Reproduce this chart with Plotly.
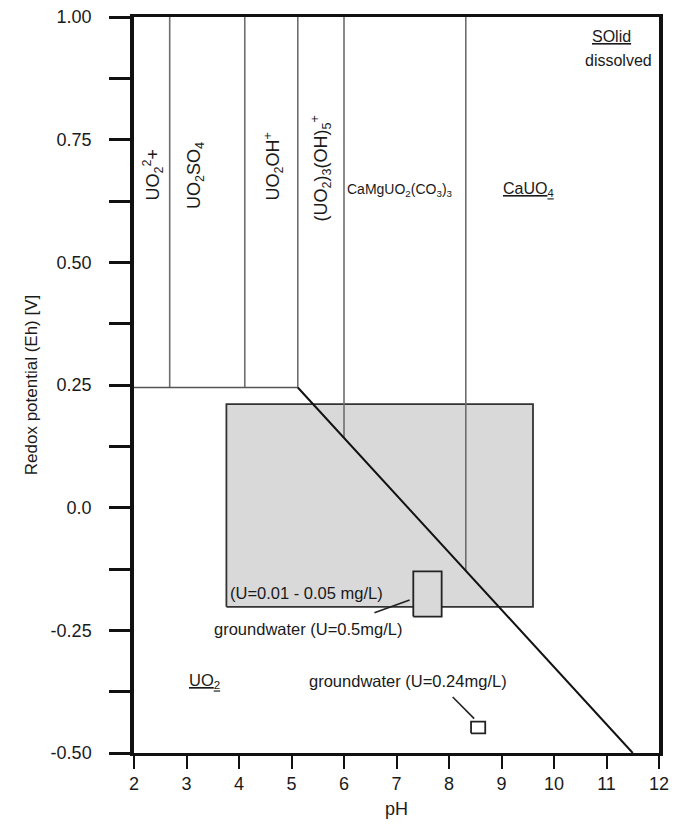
import plotly.graph_objects as go

# ---------------- data (pH, Eh [V]) ----------------
# vertical phase boundaries and their lower ends
vert_ph = [2.68, 4.11, 5.12, 6.00, 8.32]
vert_eh_top = [1.0, 1.0, 1.0, 1.0, 1.0]
vert_eh_bottom = [0.245, 0.245, 0.245, 0.142, -0.129]

# horizontal boundary (UO2 solid upper limit, acid side)
horiz_ph = [2.0, 5.12]
horiz_eh = [0.245, 0.245]

# diagonal boundary of UO2 solid
diag_ph = [5.12, 11.5]
diag_eh = [0.245, -0.5]

# observed conditions (shaded box)
obs_ph = [3.76, 9.60]
obs_eh = [-0.202, 0.211]

# groundwater boxes
gw1_ph = [7.32, 7.86]
gw1_eh = [-0.222, -0.130]
gw2_ph = [8.42, 8.69]
gw2_eh = [-0.460, -0.436]

# leader lines for labels
leader1_ph = [7.25, 6.58]
leader1_eh = [-0.188, -0.214]
leader2_ph = [8.07, 8.48]
leader2_eh = [-0.386, -0.430]

x_ticks = list(range(2, 13))
y_ticks = [-0.5, -0.25, 0.0, 0.25, 0.5, 0.75, 1.0]
y_ticktext = ["-0.50", "-0.25", "0.0", "0.25", "0.50", "0.75", "1.00"]
y_minor_ticks = [-0.375, -0.125, 0.125, 0.375, 0.625, 0.875]

FONT = "Liberation Sans, Arial, sans-serif"
TXT = "#1a1a1a"


def box(xr, yr):
    return ([xr[0], xr[1], xr[1], xr[0], xr[0]],
            [yr[0], yr[0], yr[1], yr[1], yr[0]])


fig = go.Figure()

bx, by = box(obs_ph, obs_eh)
fig.add_trace(go.Scatter(x=bx, y=by, mode="lines", fill="toself",
                         fillcolor="#d9d9d9", line=dict(color="#333333", width=1.8),
                         hoverinfo="skip", showlegend=False))

# vertical boundaries
vx, vy = [], []
for p, t, b in zip(vert_ph, vert_eh_top, vert_eh_bottom):
    vx += [p, p, None]
    vy += [t, b, None]
fig.add_trace(go.Scatter(x=vx, y=vy, mode="lines",
                         line=dict(color="#6e6e6e", width=1.6),
                         hoverinfo="skip", showlegend=False))

fig.add_trace(go.Scatter(x=horiz_ph, y=horiz_eh, mode="lines",
                         line=dict(color="#555555", width=1.6),
                         hoverinfo="skip", showlegend=False))

fig.add_trace(go.Scatter(x=diag_ph, y=diag_eh, mode="lines",
                         line=dict(color="#111111", width=2),
                         hoverinfo="skip", showlegend=False))

g1x, g1y = box(gw1_ph, gw1_eh)
fig.add_trace(go.Scatter(x=g1x, y=g1y, mode="lines", fill="toself",
                         fillcolor="#d9d9d9", line=dict(color="#222222", width=1.8),
                         hoverinfo="skip", showlegend=False))
g2x, g2y = box(gw2_ph, gw2_eh)
fig.add_trace(go.Scatter(x=g2x, y=g2y, mode="lines", fill="toself",
                         fillcolor="#ffffff", line=dict(color="#222222", width=1.8),
                         hoverinfo="skip", showlegend=False))

for lx, ly in [(leader1_ph, leader1_eh), (leader2_ph, leader2_eh)]:
    fig.add_trace(go.Scatter(x=lx, y=ly, mode="lines",
                             line=dict(color="#222222", width=1.6),
                             hoverinfo="skip", showlegend=False))

# ---------------- labels ----------------
def ann(text, x, y, size=16.5, xanchor="center", yanchor="middle", angle=0):
    fig.add_annotation(x=x, y=y, xref="x", yref="y", text=text, showarrow=False,
                       xanchor=xanchor, yanchor=yanchor, textangle=angle,
                       font=dict(family=FONT, size=size, color=TXT))

ann("UO<sub>2</sub><sup>2</sup>+", 2.35, 0.737, size=18, yanchor="top", angle=-90)
ann("UO<sub>2</sub>SO<sub>4</sub>", 3.17, 0.749, size=18, yanchor="top", angle=-90)
ann("UO<sub>2</sub>OH<sup>+</sup>", 4.66, 0.768, size=18, yanchor="top", angle=-90)
ann("(UO<sub>2</sub>)<sub>3</sub>(OH)<sub>5</sub><sup>+</sup>", 5.55, 0.804, size=18,
    yanchor="top", angle=-90)
ann("CaMgUO<sub>2</sub>(CO<sub>3</sub>)<sub>3</sub>", 7.06, 0.647, size=14)
ann("<u>CaUO<sub>4</sub></u>", 9.52, 0.649, size=16)
ann("<u>SOlid</u>", 11.10, 0.961, size=16)
ann("dissolved", 11.22, 0.911, size=16)
ann("(U=0.01 - 0.05 mg/L)", 3.79, -0.174, xanchor="left")
ann("groundwater (U=0.5mg/L)", 5.32, -0.247)
ann("<u>UO<sub>2</sub></u>", 3.00, -0.354, xanchor="left")
ann("groundwater (U=0.24mg/L)", 7.21, -0.354)

fig.update_layout(
    width=676, height=824,
    margin=dict(l=134, r=7, t=13, b=67),
    paper_bgcolor="white", plot_bgcolor="white",
    font=dict(family=FONT, color=TXT),
    showlegend=False,
)
fig.update_xaxes(range=[2, 12], tickvals=x_ticks, ticks="outside", ticklen=13,
                 tickwidth=2, tickcolor="#111111", showline=True, linewidth=2.5,
                 linecolor="#111111", mirror=True, showgrid=False, zeroline=False,
                 tickfont=dict(size=18, family=FONT, color=TXT),
                 title=dict(text="pH", font=dict(size=18, family=FONT, color=TXT), standoff=10))
fig.update_yaxes(range=[-0.5, 1.0], tickvals=y_ticks, ticktext=y_ticktext,
                 ticks="outside", ticklen=21, tickwidth=2.5, tickcolor="#111111",
                 minor=dict(tickvals=y_minor_ticks, ticks="outside", ticklen=21,
                            tickwidth=2.5, tickcolor="#111111", showgrid=False),
                 showline=True, linewidth=3.5, linecolor="#111111", mirror=True,
                 showgrid=False, zeroline=False, ticklabelstandoff=14,
                 tickfont=dict(size=18, family=FONT, color=TXT),
                 title=dict(text="Redox potential (Eh) [V]",
                            font=dict(size=17, family=FONT, color=TXT), standoff=10))

fig.write_html("out.html")
